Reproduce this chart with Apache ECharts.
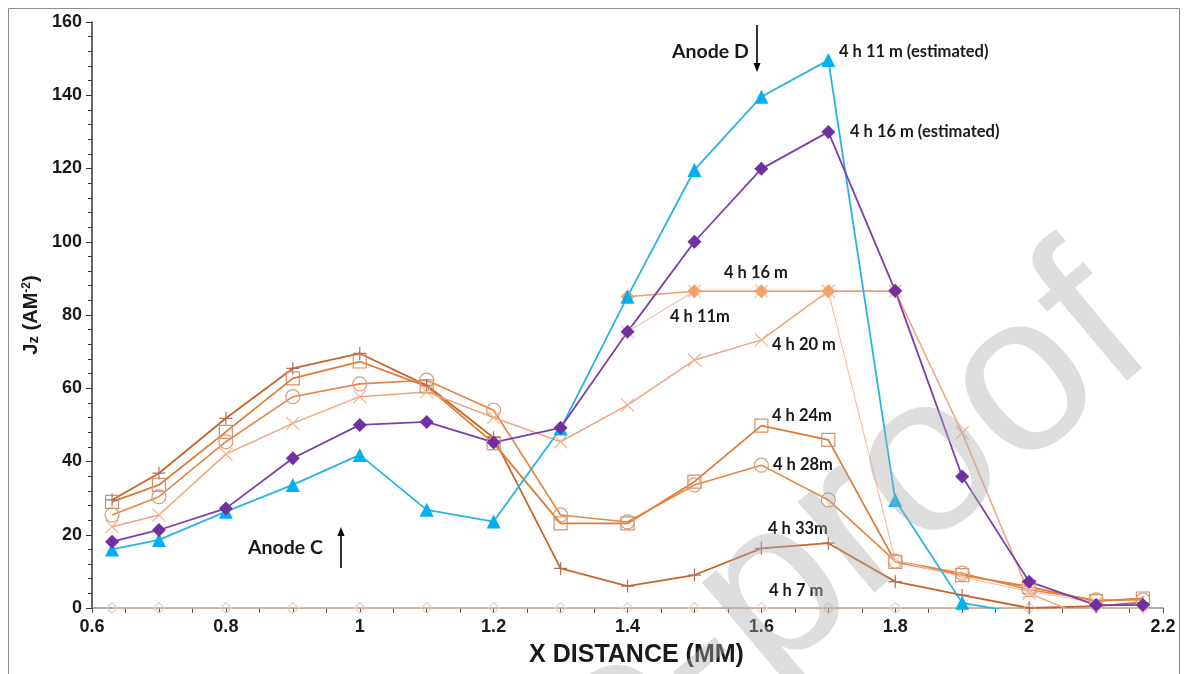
<!DOCTYPE html>
<html>
<head>
<meta charset="utf-8">
<script src="https://cdn.jsdelivr.net/npm/echarts@6/dist/echarts.min.js"></script>
<style>
  html, body { margin: 0; padding: 0; background: #fff; }
  #chart { width: 1186px; height: 674px; }
</style>
</head>
<body>
<div id="chart"></div>
<script>
// x positions (mm) of the probes
var xs = [0.63, 0.7, 0.8, 0.9, 1.0, 1.1, 1.2, 1.3, 1.4, 1.5, 1.6, 1.7, 1.8, 1.9, 2.0, 2.1, 2.17];

// Jz values, one per x position (null = no point)
var est411 = [16, 18.6, 26.3, 33.6, 41.8, 26.8, 23.6, 49, 85, 119.6, 139.6, 149.6, 29.5, 1.4, -1.8, null, null];
var est416 = [18.1, 21.3, 27.2, 40.9, 50, 50.8, 45.2, 49.2, 75.4, 100, 119.9, 130, 86.6, 35.9, 7.2, 0.8, 0.8];
var m416 = [null, null, null, null, null, null, null, null, 85, 86.5, 86.5, 86.5, 86.5, null, null, null, null];
var m411 = [null, null, null, null, null, null, null, null, 75.4, 86.5, 86.5, 86.5, 13, 8.5, 4.5, 1.5, null];
var m420 = [22.2, 25.4, 42, 50.4, 57.7, 59, 52, 45.4, 55.4, 67.7, 73.2, 86.5, 86.5, 47.8, 4, -3.5, null];
var m424 = [29, 33.6, 48.1, 62.7, 67.3, 60.5, 45, 23.1, 23.1, 34.5, 49.8, 45.9, 12.6, 9, 5.8, 1.9, 2.6];
var m428 = [25.4, 30.4, 45.4, 57.7, 61.2, 62.2, 54, 25.4, 23.5, 33.6, 39, 29.5, 12.8, 9.5, 5, 2.2, 2.2];
var m433 = [29.5, 36.8, 51.8, 65.4, 69.5, 60.8, 46.5, 10.8, 6, 9, 16.3, 17.7, 7.2, 3.5, 0, 0.5, 1.5];
var m407 = [0, 0, 0, 0, 0, 0, 0, 0, 0, 0, 0, 0, 0, 0, 0, 0, 0];

var xTicks = ['0.6', '0.8', '1', '1.2', '1.4', '1.6', '1.8', '2', '2.2'];

var PLUS = 'path://M5 0L5 10M0 5L10 5';
var CROSS = 'path://M0 0L10 10M10 0L0 10';
var LABEL_FONT = 'Lato';

function pairs(vals) {
    var out = [];
    vals.forEach(function (v, i) {
        if (v !== null) out.push([xs[i], v]);
    });
    return out;
}

// hollow / stroked markers
function mkSeries(name, vals, lineColor, lineWidth, symbol, size, markColor, filled) {
    return {
        name: name,
        type: 'line',
        data: pairs(vals),
        symbol: symbol,
        symbolSize: size,
        showAllSymbol: true,
        clip: true,
        animation: false,
        lineStyle: { color: lineColor, width: lineWidth },
        itemStyle: filled
            ? { color: markColor, borderWidth: 0 }
            : { color: 'none', borderColor: markColor, borderWidth: 1.2 },
        emphasis: { disabled: true }
    };
}

var chart = echarts.init(document.getElementById('chart'));

function txt(x, y, s, size, align) {
    return {
        type: 'text', x: x, y: y, z: 50,
        style: {
            text: s, fill: '#1a1a1a', align: align || 'left', verticalAlign: 'middle',
            font: 'bold ' + size + 'px ' + LABEL_FONT
        }
    };
}

function arrow(x, y1, y2) {
    var dir = y2 > y1 ? 1 : -1;
    return [
        { type: 'line', z: 50, shape: { x1: x, y1: y1, x2: x, y2: y2 - dir * 6 },
          style: { stroke: '#000', lineWidth: 1.6 } },
        { type: 'polygon', z: 50, shape: { points: [[x - 3.5, y2 - dir * 9], [x + 3.5, y2 - dir * 9], [x, y2]] },
          style: { fill: '#000' } }
    ];
}

var graphics = [
    { type: 'rect', z: 1, shape: { x: 8.5, y: 8.5, width: 1171, height: 700 },
      style: { fill: 'none', stroke: '#8c8c8c', lineWidth: 1 } },
    txt(672, 52, 'Anode D', 19.5),
    txt(248, 548, 'Anode C', 19.5),
    txt(839, 52, '4 h 11 m (estimated)', 16.5),
    txt(850, 132, '4 h 16 m (estimated)', 16.5),
    txt(724, 273, '4 h 16 m', 16.5),
    txt(670, 317, '4 h 11m', 16.5),
    txt(772, 345, '4 h 20 m', 16.5),
    txt(772, 416, '4 h 24m', 16.5),
    txt(773, 465, '4 h 28m', 16.5),
    txt(768, 529, '4 h 33m', 16.5),
    txt(769, 591, '4 h 7 m', 16.5),
    // watermark of the source page
    {
        type: 'text', z: 100, x: 1192, y: 392, rotation: 40 * Math.PI / 180,
        style: {
            text: 'Journal Pre-proof', fill: 'rgba(175,175,175,0.42)', align: 'right', verticalAlign: 'bottom',
            font: '225px "Liberation Sans"'
        }
    }
].concat(arrow(757, 25, 72)).concat(arrow(341, 568, 527));

var option = {
    backgroundColor: '#fff',
    animation: false,
    grid: { left: 92, right: 23, top: 22, bottom: 66, containLabel: false },
    xAxis: {
        type: 'value',
        min: 0.6, max: 2.2, interval: 0.2,
        name: 'X DISTANCE (MM)',
        nameLocation: 'middle',
        nameGap: 35,
        nameTextStyle: {
            fontFamily: 'Liberation Sans', fontWeight: 'bold', fontSize: 25, color: '#1a1a1a',
            padding: [0, 0, 0, 18]
        },
        axisLine: { lineStyle: { color: '#8a8a8a', width: 1.5 } },
        axisTick: { show: true, length: 5, lineStyle: { color: '#555' } },
        minorTick: { show: true, splitNumber: 4, length: 5, lineStyle: { color: '#555' } },
        splitLine: { show: false },
        axisLabel: {
            fontFamily: 'Liberation Sans', fontWeight: 'bold', fontSize: 18, color: '#1a1a1a', margin: 10,
            formatter: function (v) { return xTicks[Math.round((v - 0.6) / 0.2)]; }
        }
    },
    yAxis: {
        type: 'value',
        min: 0, max: 160, interval: 20,
        name: 'J{s|z} (AM{p|-2})',
        nameLocation: 'middle',
        nameGap: 50,
        nameRotate: 90,
        nameTextStyle: {
            fontFamily: 'Liberation Sans', fontWeight: 'bold', fontSize: 20, color: '#1a1a1a',
            rich: {
                s: { fontFamily: 'Liberation Sans', fontWeight: 'bold', fontSize: 15, color: '#1a1a1a', verticalAlign: 'bottom' },
                p: { fontFamily: 'Liberation Sans', fontWeight: 'bold', fontSize: 12, color: '#1a1a1a', verticalAlign: 'top' }
            }
        },
        axisLine: { show: true, lineStyle: { color: '#333', width: 1.5 } },
        axisTick: { show: true, length: 6, lineStyle: { color: '#333' } },
        minorTick: { show: true, splitNumber: 5, length: 4, lineStyle: { color: '#333' } },
        splitLine: { show: false },
        axisLabel: { fontFamily: 'Liberation Sans', fontWeight: 'bold', fontSize: 18, color: '#1a1a1a', margin: 10 }
    },
    graphic: graphics,
    series: [
        mkSeries('4 h 7 m', m407, '#e9b9a0', 1.5, 'diamond', 11, '#f0cdbb', false),
        mkSeries('4 h 33m', m433, '#c8642a', 1.8, PLUS, 13, '#a8705a', false),
        mkSeries('4 h 24m', m424, '#e07a35', 1.8, 'rect', 13, '#d3916c', false),
        mkSeries('4 h 28m', m428, '#e6843f', 1.6, 'circle', 14, '#d89c7c', false),
        mkSeries('4 h 20 m', m420, '#f0a47c', 1.5, CROSS, 13, '#f2b18c', false),
        mkSeries('4 h 11m', m411, '#f4c0a8', 1.2, CROSS, 13, '#f4c4ac', false),
        mkSeries('4 h 16 m', m416, '#f19a62', 1.6, 'diamond', 14, '#f4a06a', true),
        mkSeries('4 h 11 m (estimated)', est411, '#29b2e4', 1.8, 'triangle', 14, '#00b0f0', true),
        mkSeries('4 h 16 m (estimated)', est416, '#7b3ead', 1.8, 'diamond', 14, '#7030a0', true)
    ]
};

chart.setOption(option);
</script>
</body>
</html>
